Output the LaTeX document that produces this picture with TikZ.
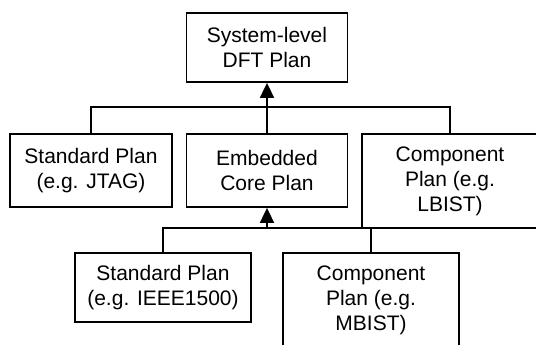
\documentclass[tikz,border=0pt]{standalone}
\usepackage{fontspec}
\setmainfont{Liberation Sans}
\usetikzlibrary{arrows.meta}
\begin{document}
\begin{tikzpicture}[x=1pt,y=-1pt,
  box/.style={draw, line width=1.8pt, align=center, inner sep=0pt,
    font=\fontsize{21}{25}\selectfont},
  link/.style={line width=1.8pt},
  uparrow/.style={line width=1.8pt, -{Triangle[length=15pt,width=14pt]}}]
\useasboundingbox (0,0) rectangle (536,345);
\clip (0,0) rectangle (536,345);
\node[box, minimum width=161pt, minimum height=69pt] (top) at (267,47.5) {System-level\\DFT Plan};
\node[box, minimum width=162pt, minimum height=73pt] (std1) at (91,170.5) {Standard Plan\\(e.g. JTAG)};
\node[box, minimum width=161pt, minimum height=73pt] (emb) at (267,170.5) {Embedded\\Core Plan};
\node[box, minimum width=176pt, minimum height=94pt] (comp1) at (450,181) {Component\\Plan (e.g.\\LBIST)};
\node[box, minimum width=176pt, minimum height=69pt] (std2) at (163,287.5) {Standard Plan\\(e.g. IEEE1500)};
\node[box, minimum width=176pt, minimum height=94pt] (comp2) at (371,300) {Component\\Plan (e.g.\\MBIST)};
\coordinate (j1) at (267,107);
\coordinate (j2) at (267,228);
\draw[link] (std1.north) |- (j1) -| (comp1.north);
\draw[uparrow] (emb.north) -- (top.south);
\draw[link] (std2.north) |- (j2) -| (comp2.north);
\draw[uparrow] (j2) -- (emb.south);
\end{tikzpicture}
\end{document}
